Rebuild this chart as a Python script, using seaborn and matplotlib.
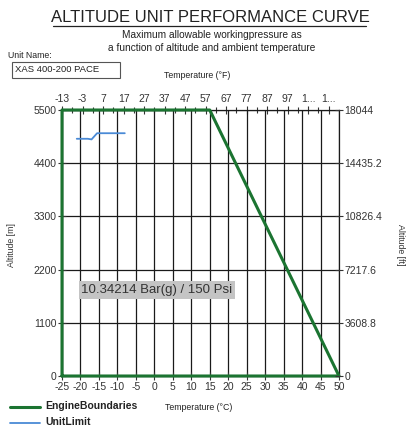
import matplotlib
matplotlib.use("Agg")
import matplotlib.pyplot as plt
import seaborn as sns
import pandas as pd
import numpy as np
from matplotlib.patches import Rectangle

# ---- data ----
engine_temp_c = [-25, -25, 15, 50, -25]
engine_alt_m = [0, 5500, 5500, 0, 0]
unit_temp_c = [-21, -18, -17, -15.5, -8]
unit_alt_m = [4905, 4905, 4892, 5020, 5020]
x_ticks_c = list(range(-25, 51, 5))
y_ticks_m = [0, 1100, 2200, 3300, 4400, 5500]
y_ticks_ft = [0, 3608.8, 7217.6, 10826.4, 14435.2, 18044]
y_labels_ft = ["0", "3608.8", "7217.6", "10826.4", "14435.2", "18044"]
f_ticks = list(range(-13, 118, 10))
f_labels = ["-13", "-3", "7", "17", "27", "37", "47", "57", "67", "77", "87", "97", "1...", "1..."]
pressure_label = "10.34214 Bar(g) / 150 Psi"

sns.set_style("ticks")
plt.rcParams['font.family'] = ['Liberation Sans', 'DejaVu Sans']
plt.rcParams['axes.unicode_minus'] = False

W, H = 407, 428
fig = plt.figure(figsize=(W / 100, H / 100), dpi=100)
ax = fig.add_axes([62 / W, 1 - 376 / H, (339 - 62) / W, (376 - 110) / H])

df_eng = pd.DataFrame({"t": engine_temp_c, "a": engine_alt_m})
df_unit = pd.DataFrame({"t": unit_temp_c, "a": unit_alt_m})

green = "#1b7431"
blue = "#4a8ad6"
txt = "#333333"

ax.set_xlim(-25, 50)
ax.set_ylim(0, 5500)
ax.set_xticks(x_ticks_c)
ax.set_yticks(y_ticks_m)
ax.grid(True, color="#1a1a1a", linewidth=0.9)
ax.set_axisbelow(True)

sns.lineplot(data=df_eng, x="t", y="a", sort=False, estimator=None, ax=ax,
             color=green, linewidth=2.2, label="EngineBoundaries", clip_on=False, zorder=5)
sns.lineplot(data=df_unit, x="t", y="a", sort=False, estimator=None, ax=ax,
             color=blue, linewidth=1.3, label="UnitLimit", zorder=5)

for s in ax.spines.values():
    s.set_color("#1a1a1a")
    s.set_linewidth(0.9)

ax.set_xlabel("")
ax.set_ylabel("")
ax.tick_params(axis="both", labelsize=7.5, colors=txt, direction="inout", length=6, width=0.8, pad=1)

# right axis
ax2 = ax.twinx()
ax2.set_ylim(0, 18044)
ax2.set_yticks(y_ticks_ft)
ax2.set_yticklabels(y_labels_ft)
ax2.tick_params(axis="y", labelsize=7.5, colors=txt, direction="inout", length=6, width=0.8, pad=1)
ax2.set_ylabel("")
for s in ax2.spines.values():
    s.set_visible(False)

# top axis (F)
secax = ax.secondary_xaxis("top", functions=(lambda c: c * 9 / 5 + 32, lambda f: (f - 32) * 5 / 9))
secax.set_xticks(f_ticks)
secax.set_xticklabels(f_labels)
secax.set_xticks(list(np.arange(-8, 118, 10)), minor=True)
secax.tick_params(axis="x", which="major", labelsize=7.5, colors=txt, direction="inout", length=6, width=0.8, pad=1)
secax.tick_params(axis="x", which="minor", direction="inout", length=4, width=0.8, colors=txt)
secax.spines["top"].set_visible(False)

ax.get_legend().remove()

# pressure label
ax.text(-19.8, 1780, pressure_label, fontsize=9.5, color=txt, va="center", ha="left",
        bbox=dict(boxstyle="square,pad=0.2", facecolor="#c4c4c4", edgecolor="none"), zorder=6)

# axis labels
fig.text(12 / W, 1 - 245 / H, "Altitude [m]", rotation=90, ha="center", va="center", fontsize=6.3, color=txt)
fig.text(400 / W, 1 - 245 / H, "Altitude [ft]", rotation=270, ha="center", va="center", fontsize=6.3, color=txt)

# titles
fig.text(210 / W, 1 - 17 / H, "ALTITUDE UNIT PERFORMANCE CURVE", ha="center", va="center",
         fontsize=12, color="#222222")
fig.add_artist(plt.Line2D([53 / W, 366 / W], [1 - 26 / H, 1 - 26 / H], color="#222222", linewidth=0.9))
fig.text(212 / W, 1 - 35 / H, "Maximum allowable workingpressure as", ha="center", va="center",
         fontsize=7.3, color="#222222")
fig.text(212 / W, 1 - 48 / H, "a function of altitude and ambient temperature", ha="center", va="center",
         fontsize=7.3, color="#222222")
fig.text(8 / W, 1 - 55 / H, "Unit Name:", ha="left", va="center", fontsize=6.3, color="#222222")
fig.add_artist(Rectangle((12 / W, 1 - 78 / H), 108 / W, 16 / H, transform=fig.transFigure,
                         facecolor="white", edgecolor="#555555", linewidth=0.8))
fig.text(15 / W, 1 - 70 / H, "XAS 400-200 PACE", ha="left", va="center", fontsize=6.8, color="#222222")
fig.text(197 / W, 1 - 75 / H, "Temperature (\u00b0F)", ha="center", va="center", fontsize=6.3, color="#222222")
fig.text(199 / W, 1 - 408 / H, "Temperature (\u00b0C)", ha="center", va="center", fontsize=6.3, color="#222222")

# legend
fig.add_artist(plt.Line2D([10 / W, 40 / W], [1 - 407 / H] * 2, color=green, linewidth=2.2))
fig.text(45 / W, 1 - 406 / H, "EngineBoundaries", ha="left", va="center", fontsize=7.5,
         fontweight="bold", color="#222222")
fig.add_artist(plt.Line2D([10 / W, 40 / W], [1 - 423 / H] * 2, color=blue, linewidth=1.3))
fig.text(45 / W, 1 - 422 / H, "UnitLimit", ha="left", va="center", fontsize=7.5,
         fontweight="bold", color="#222222")

fig.savefig("out.png", dpi=100, facecolor="white")
